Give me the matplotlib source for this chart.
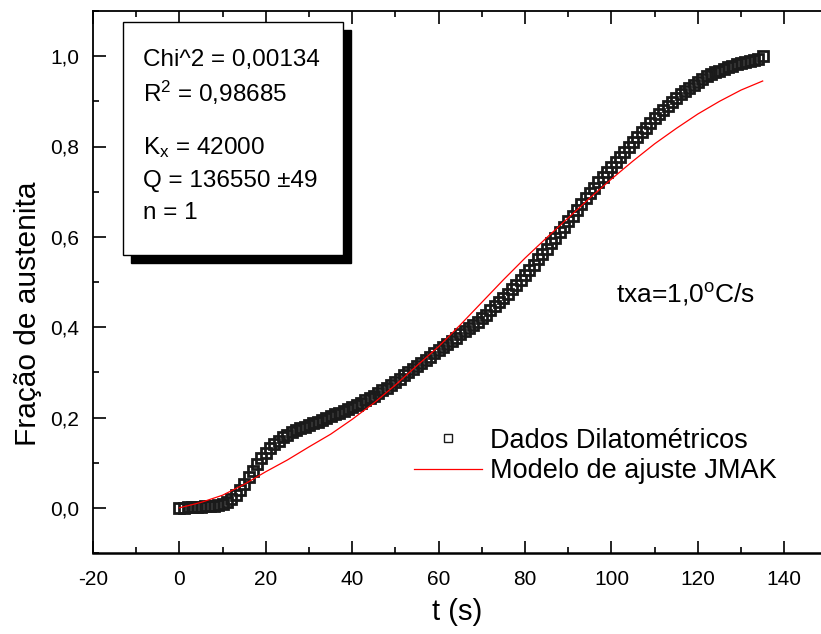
import numpy as np
import matplotlib
matplotlib.use("Agg")
import matplotlib.pyplot as plt
from matplotlib.patches import Rectangle
from matplotlib.ticker import MultipleLocator, FuncFormatter

plt.rcParams['font.family'] = ['Liberation Sans', 'DejaVu Sans']
plt.rcParams['mathtext.fontset'] = 'custom'
plt.rcParams['mathtext.rm'] = 'Liberation Sans'
plt.rcParams['mathtext.it'] = 'Liberation Sans:italic'
plt.rcParams['axes.unicode_minus'] = False

# Dados dilatométricos (t em s, 1 ponto por segundo)
t_dados = np.arange(0, 136)
f_dados = [
    0.000, 0.000, 0.001, 0.001, 0.002, 0.002, 0.003, 0.003, 0.004, 0.006,
    0.009, 0.013, 0.020, 0.028, 0.040, 0.053, 0.068, 0.082, 0.097, 0.110,
    0.121, 0.132, 0.141, 0.149, 0.156, 0.162, 0.167, 0.172, 0.176, 0.180,
    0.184, 0.188, 0.191, 0.195, 0.199, 0.203, 0.207, 0.211, 0.215, 0.219,
    0.224, 0.228, 0.233, 0.238, 0.243, 0.248, 0.254, 0.260, 0.266, 0.272,
    0.279, 0.286, 0.293, 0.300, 0.307, 0.314, 0.321, 0.328, 0.335, 0.342,
    0.349, 0.356, 0.363, 0.370, 0.377, 0.384, 0.391, 0.398, 0.405, 0.412,
    0.420, 0.428, 0.437, 0.446, 0.455, 0.464, 0.474, 0.484, 0.494, 0.504,
    0.515, 0.526, 0.538, 0.550, 0.562, 0.574, 0.586, 0.598, 0.610, 0.622,
    0.635, 0.647, 0.660, 0.672, 0.685, 0.697, 0.709, 0.721, 0.732, 0.744,
    0.755, 0.766, 0.777, 0.788, 0.799, 0.810, 0.820, 0.831, 0.842, 0.852,
    0.862, 0.872, 0.881, 0.890, 0.899, 0.908, 0.916, 0.923, 0.930, 0.937,
    0.943, 0.949, 0.955, 0.960, 0.964, 0.968, 0.972, 0.976, 0.979, 0.982,
    0.985, 0.988, 0.990, 0.992, 0.994, 1.000,
]

# Modelo JMAK
t_modelo = [0, 5, 10, 15, 20, 25, 30, 35, 40, 45, 50, 55, 60, 65,
            70, 75, 80, 85, 90, 95, 100, 105, 110, 115, 120, 125, 130, 135]
f_modelo = [0.0, 0.012, 0.028, 0.052, 0.080, 0.106, 0.135, 0.163, 0.196, 0.232,
            0.272, 0.315, 0.357, 0.405, 0.455, 0.505, 0.553, 0.598, 0.642, 0.686,
            0.728, 0.768, 0.806, 0.840, 0.872, 0.900, 0.925, 0.945]

fig = plt.figure(figsize=(8.21, 6.34), dpi=100)
ax = fig.add_axes([93/821, 1-553/634, 1-93/821, (553-11)/634])

ax.plot(t_dados, f_dados, 's', ms=7.5, mfc='none', mec='#1a1a1a', mew=2.0,
        label='Dados Dilatométricos')
ax.plot(t_modelo, f_modelo, '-', color='red', lw=0.9,
        label='Modelo de ajuste JMAK')

ax.set_xlim(-20, 148.5)
ax.set_ylim(-0.1, 1.1)
ax.xaxis.set_major_locator(MultipleLocator(20))
ax.xaxis.set_minor_locator(MultipleLocator(10))
ax.yaxis.set_major_locator(MultipleLocator(0.2))
ax.yaxis.set_minor_locator(MultipleLocator(0.1))
ax.yaxis.set_major_formatter(FuncFormatter(lambda v, p: f"{v:.1f}".replace('.', ',')))

ax.tick_params(which='both', direction='in', top=True, right=False,
               labelsize=15, width=1.2)
ax.tick_params(axis='x', pad=12)
ax.tick_params(axis='y', pad=10)
ax.tick_params(which='major', length=9)
ax.tick_params(which='minor', length=4.5)
ax.spines['right'].set_visible(False)
ax.spines['bottom'].set_linewidth(1.8)
ax.spines['left'].set_linewidth(1.3)
ax.spines['top'].set_linewidth(1.3)

ax.set_xlabel('t (s)', fontsize=21, labelpad=7)
ax.set_ylabel('Fração de austenita', fontsize=21.5)
ax.yaxis.set_label_coords(-51/728, 0.441)

leg = ax.legend(loc='center left', bbox_to_anchor=(414/821, 1-456/634),
                bbox_transform=fig.transFigure, frameon=False, fontsize=19.5,
                handlelength=2.5, handletextpad=0.3, labelspacing=0.15,
                borderpad=0, borderaxespad=0)
leg.legend_handles[0].set_markersize(6)
leg.legend_handles[0].set_markeredgewidth(1.0)

ax.text(101, 0.473, r'txa=1,0$\mathregular{^o}$C/s', fontsize=19, va='center')

# caixa de parâmetros com sombra
bx, by, bw, bh = 123/821, 1-255/634, 220/821, 233/634
sh_x, sh_y = 8/821, 8/634
fig.add_artist(Rectangle((bx+sh_x, by-sh_y), bw, bh, transform=fig.transFigure,
                         facecolor='black', edgecolor='black', zorder=5))
fig.add_artist(Rectangle((bx, by), bw, bh, transform=fig.transFigure,
                         facecolor='white', edgecolor='black', lw=1.0, zorder=6))
linhas = [
    (60, 'Chi^2 = 0,00134'),
    (93, r'R$\mathregular{^2}$ = 0,98685'),
    (148, r'K$\mathregular{_x}$ = 42000'),
    (181, 'Q = 136550 ±49'),
    (213, 'n = 1'),
]
for ypx, txt in linhas:
    fig.text(143/821, 1-ypx/634, txt, fontsize=17.5, va='center', ha='left', zorder=7)

fig.savefig('out.png', dpi=100)
